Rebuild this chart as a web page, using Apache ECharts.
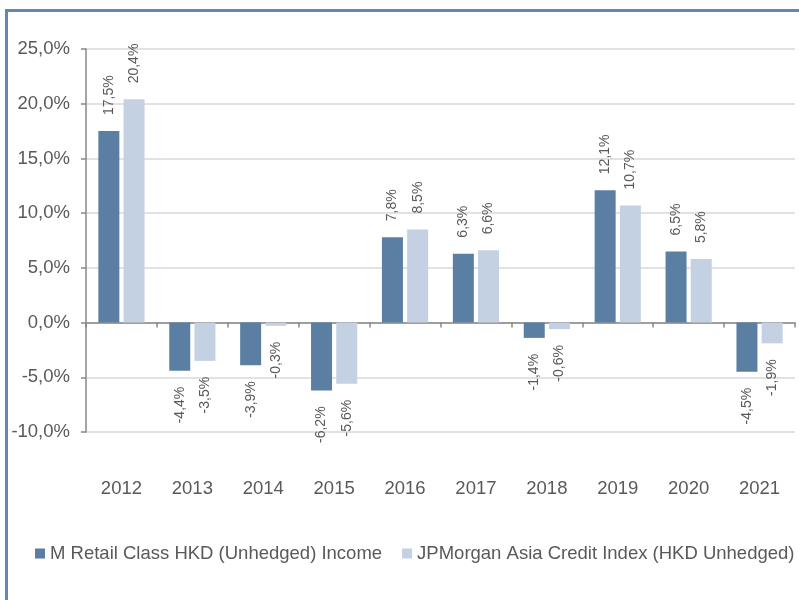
<!DOCTYPE html>
<html>
<head>
<meta charset="utf-8">
<script src="https://cdn.jsdelivr.net/npm/echarts@6/dist/echarts.min.js"></script>
<style>
  html, body { margin: 0; padding: 0; background: #fff; }
  #chart { position: absolute; left: 0; top: 0; width: 799px; height: 600px; }
  #frame { position: absolute; left: 5px; top: 9px; width: 794px; height: 591px;
           border-top: 3px solid #6387ad; border-left: 3px solid #6387ad;
           box-sizing: border-box; pointer-events: none; }
</style>
</head>
<body>
<div id="chart"></div>
<div id="frame"></div>
<script>
var years = ['2012', '2013', '2014', '2015', '2016', '2017', '2018', '2019', '2020', '2021'];
var fundName = 'M Retail Class HKD (Unhedged) Income';
var indexName = 'JPMorgan Asia Credit Index (HKD Unhedged)';
var fundValues = [17.5, -4.4, -3.9, -6.2, 7.8, 6.3, -1.4, 12.1, 6.5, -4.5];
var indexValues = [20.4, -3.5, -0.3, -5.6, 8.5, 6.6, -0.6, 10.7, 5.8, -1.9];

var textColor = '#595959';
var font = 'Liberation Sans, Arial, sans-serif';

function pct(v) {
  return v.toFixed(1).replace('.', ',') + '%';
}

// positive labels go up from the bar top, negative ones go down from the bar end
function withLabels(values) {
  return values.map(function (v) {
    return {
      value: v,
      label: v >= 0
        ? { position: 'top', align: 'left' }
        : { position: 'bottom', align: 'right' }
    };
  });
}

var barLabel = {
  show: true,
  rotate: 90,
  distance: 16,
  verticalAlign: 'middle',
  color: textColor,
  fontFamily: font,
  fontSize: 14,
  formatter: function (p) { return pct(p.value); }
};

var myChart = echarts.init(document.getElementById('chart'));
var option = {
  animation: false,
  textStyle: { fontFamily: font },
  grid: { left: 86, right: 4, top: 49, bottom: 168 },
  legend: {
    left: 35,
    top: 544,
    width: 780,
    padding: 0,
    icon: 'rect',
    itemWidth: 10,
    itemHeight: 10,
    itemGap: 20,
    textStyle: { color: textColor, fontSize: 18.5, fontFamily: font },
    data: [fundName, indexName]
  },
  xAxis: [
    {
      // zero line with ticks
      type: 'category',
      data: years,
      axisLine: { onZero: true, lineStyle: { color: '#888', width: 1.5 } },
      axisTick: { show: true, length: 5, lineStyle: { color: '#888', width: 1.5 } },
      axisLabel: { show: false },
      splitLine: { show: false }
    },
    {
      // year labels at the bottom
      type: 'category',
      data: years,
      position: 'bottom',
      axisLine: { show: false, onZero: false },
      axisTick: { show: false },
      axisLabel: { margin: 47, color: textColor, fontSize: 18.5, fontFamily: font },
      splitLine: { show: false }
    }
  ],
  yAxis: {
    type: 'value',
    min: -10,
    max: 25,
    interval: 5,
    axisLine: { show: true, lineStyle: { color: '#888', width: 1.5 } },
    axisTick: { show: true, length: 5, lineStyle: { color: '#888', width: 1.5 } },
    axisLabel: { margin: 16, color: textColor, fontSize: 18.5, fontFamily: font, formatter: pct },
    splitLine: { show: true, lineStyle: { color: '#d9d9d9', width: 1.5 } }
  },
  series: [
    {
      name: fundName,
      type: 'bar',
      barWidth: 21,
      barGap: '20%',
      itemStyle: { color: '#5b7fa3' },
      label: barLabel,
      data: withLabels(fundValues)
    },
    {
      name: indexName,
      type: 'bar',
      barWidth: 21,
      barGap: '20%',
      itemStyle: { color: '#c4d1e3' },
      label: barLabel,
      data: withLabels(indexValues)
    }
  ]
};
myChart.setOption(option);
</script>
</body>
</html>
